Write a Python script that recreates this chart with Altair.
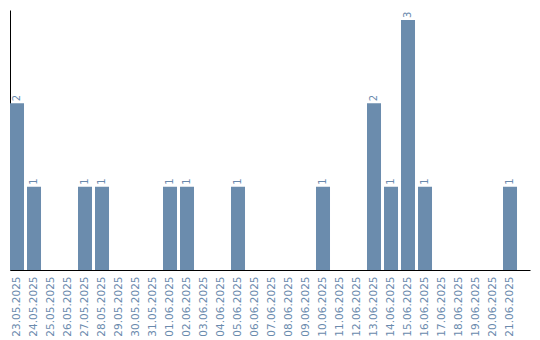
import altair as alt
import pandas as pd

dates = ["23.05.2025", "24.05.2025", "25.05.2025", "26.05.2025", "27.05.2025",
         "28.05.2025", "29.05.2025", "30.05.2025", "31.05.2025", "01.06.2025",
         "02.06.2025", "03.06.2025", "04.06.2025", "05.06.2025", "06.06.2025",
         "07.06.2025", "08.06.2025", "09.06.2025", "10.06.2025", "11.06.2025",
         "12.06.2025", "13.06.2025", "14.06.2025", "15.06.2025", "16.06.2025",
         "17.06.2025", "18.06.2025", "19.06.2025", "20.06.2025", "21.06.2025"]
counts = [2, 1, 0, 0, 1, 1, 0, 0, 0, 1, 1, 0, 0, 1, 0,
          0, 0, 0, 1, 0, 0, 2, 1, 3, 1, 0, 0, 0, 0, 1]

df = pd.DataFrame({"date": dates, "count": counts})

BAR = "#6b8cad"
TXT = "#6a8aad"

x = alt.X("date:N", sort=dates, title=None,
          scale=alt.Scale(paddingInner=0.176, paddingOuter=0.382, align=0),
          axis=alt.Axis(labelAngle=270, labelColor=TXT, labelFont="DejaVu Sans",
                        labelFontSize=10.5, ticks=False, labelPadding=6,
                        domainColor="black", domainWidth=1, labelOverlap=False))
y = alt.Y("count:Q", title=None,
          scale=alt.Scale(domain=[0, 3.12], nice=False),
          axis=alt.Axis(labels=False, ticks=False, grid=False,
                        domainColor="black", domainWidth=1))

bars = alt.Chart(df).mark_bar(color=BAR).encode(x=x, y=y)
labels = alt.Chart(df).transform_filter("datum.count > 0").mark_text(
    angle=270, align="left", baseline="middle", dx=2, color=TXT,
    font="DejaVu Sans", fontSize=10
).encode(x=alt.X("date:N", sort=dates), y="count:Q", text="count:Q")

chart = (bars + labels).properties(
    width=520, height=260,
    autosize=alt.AutoSizeParams(type="none"),
    padding={"left": 10, "top": 10, "right": 10, "bottom": 70},
).configure_view(stroke=None)

chart.save("out.html", embed_options={"renderer": "svg", "actions": False})
